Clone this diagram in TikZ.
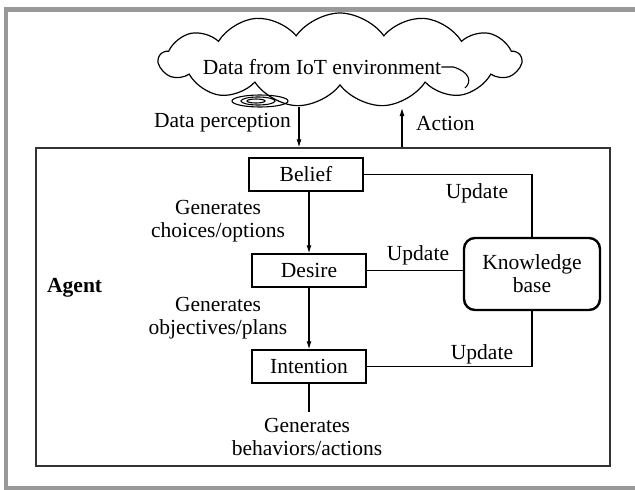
\documentclass[tikz,border=0pt]{standalone}
\usepackage{fontspec}
\setmainfont{Liberation Serif}
\usetikzlibrary{arrows.meta,shapes.symbols}

\begin{document}
\begin{tikzpicture}[x=1pt,y=-1pt,
    every node/.style={font=\fontsize{21.5}{23}\selectfont},
    frame/.style={draw=black!40,line width=4.5pt},
    bdi/.style={draw,line width=1.4pt,minimum width=114pt,minimum height=33pt,inner sep=0pt},
    kbase/.style={draw,line width=2.4pt,rounded corners=11pt,minimum width=136pt,minimum height=72pt,align=center,inner sep=0pt},
    lbl/.style={align=center,inner sep=0pt},
    conn/.style={line width=1.1pt},
    arr/.style={conn,-{Latex[length=8pt,width=5pt]}}]
    \useasboundingbox (0,0) rectangle (635,490);
    \draw[frame] (640,9.5) -- (6,9.5) -- (6,488) -- (640,488);

    \node[draw=black!80,line width=1.3pt,minimum width=574pt,minimum height=318pt,inner sep=0pt] (agentbox) at (323,307) {};

    \node[cloud,draw,line width=1.2pt,cloud puffs=13,cloud puff arc=110,aspect=3.2,minimum width=362pt,minimum height=94pt,inner sep=0pt] (iot) at (340,60) {};
    \node[lbl] (iottext) at (322,67) {Data from IoT environment};
    \draw[line width=1.1pt] (260,101) ellipse [x radius=28,y radius=6];
    \draw[line width=1.1pt] (258,101) ellipse [x radius=17,y radius=4];
    \draw[line width=1.1pt] (256,101) ellipse [x radius=9,y radius=2];
    \draw[line width=1.1pt] (iottext.east) -- ++(12,0) .. controls (470,72) and (472,82) .. (465,88);

    \node[bdi] (belief) at (306,174.5) {Belief};
    \node[bdi] (desire) at (309,270.5) {Desire};
    \node[bdi] (intention) at (309,366.5) {Intention};
    \node[kbase] (kb) at (532,274) {Knowledge\\base};

    \coordinate (percTop) at (299,107);
    \coordinate (actTop) at (402,108);
    \coordinate (behav) at (309,412);
    \node[lbl,anchor=east] (perc) at (291,123) {Data perception};
    \node[lbl,anchor=west] (act) at (416,123) {Action};
    \node[lbl,anchor=west,font=\fontsize{21.5}{23}\selectfont\bfseries] (agent) at (47,288) {Agent};

    \node[lbl] (gen1) at (218,221.5) {Generates\\choices/options};
    \node[lbl] (gen2) at (218,318.5) {Generates\\objectives/plans};
    \node[lbl] (gen3) at (307,436.5) {Generates\\behaviors/actions};
    \node[lbl] (upd1) at (477,193) {Update};
    \node[lbl] (upd2) at (418,255) {Update};
    \node[lbl] (upd3) at (482,354) {Update};

    \draw[arr] (percTop) -- (percTop |- agentbox.north);
    \draw[arr] (actTop |- agentbox.north) -- (actTop);
    \draw[arr] (desire.north |- belief.south) -- (desire.north);
    \draw[arr] (desire) -- (intention);
    \draw[conn] (belief) -| (kb);
    \draw[conn] (desire) -- (kb.west |- desire);
    \draw[conn] (intention) -| (kb);
    \draw[conn] (intention) -- (behav);
\end{tikzpicture}
\end{document}
